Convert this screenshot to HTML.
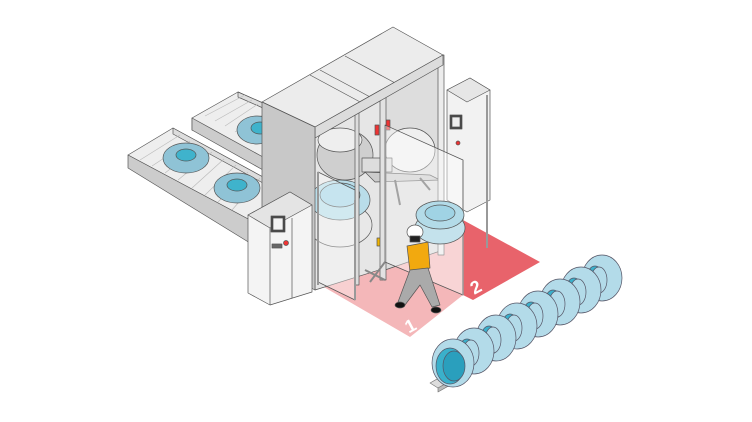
<!DOCTYPE html>
<html><head><meta charset="utf-8"><style>html,body{margin:0;padding:0;background:#fff}svg{display:block}</style></head>
<body>
<svg width="752" height="422" viewBox="0 0 752 422" xmlns="http://www.w3.org/2000/svg" stroke="#555" stroke-width="0.7" stroke-linejoin="round">
<!-- floor zones -->
<polygon points="317,283 385,248 463,225 463,295 410,337" fill="#f4b7b9" stroke="none"/>
<polygon points="463,220 540,262 473,300 463,295" fill="#e8636b" stroke="none"/>
<text x="405" y="332" font-family="Liberation Sans,sans-serif" font-size="18" font-weight="bold" fill="#fff" stroke="none" transform="rotate(-28 410 325)">1</text>
<text x="470" y="292" font-family="Liberation Sans,sans-serif" font-size="18" font-weight="bold" fill="#fff" stroke="none" transform="rotate(-28 478 285)">2</text>

<!-- upper conveyor -->
<polygon points="192,118 238,92 263,103 263,160 192,130" fill="#eee"/>
<polygon points="192,118 263,157 263,170 192,130" fill="#ccc"/>
<polygon points="238,92 263,103 263,108 238,97" fill="#ddd"/>
<g stroke="#bbb"><line x1="205" y1="116" x2="245" y2="95"/><line x1="215" y1="121" x2="252" y2="100"/><line x1="225" y1="126" x2="258" y2="104"/><line x1="235" y1="132" x2="263" y2="115"/><line x1="245" y1="138" x2="263" y2="126"/></g>
<ellipse cx="257" cy="130" rx="20" ry="14" fill="#8fc3d6"/><ellipse cx="260" cy="128" rx="9" ry="6" fill="#3fb3cc"/>

<!-- lower conveyor -->
<polygon points="128,155 173,128 263,177 263,228 250,220" fill="#eee"/>
<polygon points="128,155 250,220 250,243 128,168" fill="#ccc"/>
<polygon points="173,128 263,177 263,183 173,134" fill="#ddd"/>
<g stroke="#bbb"><line x1="140" y1="160" x2="180" y2="135"/><line x1="152" y1="166" x2="190" y2="141"/><line x1="165" y1="173" x2="200" y2="146"/><line x1="178" y1="180" x2="212" y2="152"/><line x1="192" y1="188" x2="224" y2="159"/><line x1="205" y1="195" x2="236" y2="165"/><line x1="218" y1="202" x2="248" y2="172"/><line x1="232" y1="210" x2="260" y2="178"/></g>
<ellipse cx="186" cy="158" rx="23" ry="15" fill="#8fc3d6"/><ellipse cx="186" cy="155" rx="10" ry="6" fill="#3fb3cc"/>
<ellipse cx="237" cy="188" rx="23" ry="15" fill="#8fc3d6"/><ellipse cx="237" cy="185" rx="10" ry="6" fill="#3fb3cc"/>

<!-- tower interior back -->
<polygon points="315,127 443,55 443,250 315,290" fill="#e6e6e6"/>
<polygon points="385,92 443,60 443,250 385,270" fill="#ddd"/>
<ellipse cx="345" cy="155" rx="28" ry="25" fill="#cfcfcf"/>
<ellipse cx="340" cy="140" rx="22" ry="12" fill="#eee"/>
<ellipse cx="340" cy="225" rx="32" ry="22" fill="#e8e8e8"/>
<ellipse cx="340" cy="200" rx="30" ry="20" fill="#b9dde9"/>
<ellipse cx="340" cy="195" rx="20" ry="12" fill="#a8d6e6"/>
<ellipse cx="410" cy="150" rx="25" ry="22" fill="#efefef"/>
<rect x="362" y="158" width="30" height="14" fill="#ddd"/>
<polygon points="365,172 430,175 440,180 375,182" fill="#ccc"/>
<line x1="395" y1="180" x2="400" y2="205" stroke="#666" stroke-width="2"/>
<line x1="420" y1="178" x2="430" y2="190" stroke="#666" stroke-width="2"/>
<rect x="375" y="125" width="4" height="10" fill="#e33"/>
<rect x="386" y="120" width="4" height="10" fill="#e33"/>
<rect x="377" y="238" width="8" height="8" fill="#f0b400"/>
<rect x="380" y="95" width="6" height="185" fill="#e2e2e2"/>
<rect x="355" y="105" width="4" height="180" fill="#ddd"/>
<rect x="438" y="55" width="6" height="200" fill="#ececec"/>
<!-- tower top -->
<polygon points="262,102 393,27 443,55 315,127" fill="#ececec"/>
<line x1="310" y1="75" x2="362" y2="103" /><line x1="320" y1="70" x2="372" y2="98"/><line x1="345" y1="56" x2="397" y2="84"/>
<polygon points="315,127 443,55 443,65 315,138" fill="#dcdcdc"/>
<polygon points="262,102 315,127 315,290 262,262" fill="#c8c8c8"/>
<!-- right control cabinet -->
<polygon points="447,90 470,78 490,90 490,200 467,212 447,200" fill="#f2f2f2"/>
<polygon points="447,90 470,78 490,90 467,102" fill="#e6e6e6"/>
<rect x="450" y="115" width="12" height="14" fill="#444"/><rect x="452" y="117" width="8" height="10" fill="#eee"/>
<circle cx="458" cy="143" r="2" fill="#e33"/>
<!-- glass panels -->
<polygon points="318,172 355,190 355,300 318,282" fill="#fff" fill-opacity="0.35"/>
<polygon points="385,125 463,160 463,295 385,262" fill="#fff" fill-opacity="0.4"/>
<line x1="318" y1="172" x2="318" y2="285" stroke="#999" stroke-width="2"/>
<line x1="355" y1="200" x2="355" y2="300" stroke="#999" stroke-width="2"/>
<line x1="463" y1="160" x2="463" y2="295" stroke="#999" stroke-width="1.5"/>
<line x1="487" y1="95" x2="487" y2="248" stroke="#999" stroke-width="2"/>
<!-- tire on floor -->
<ellipse cx="440" cy="228" rx="25" ry="16" fill="#c4e2ec"/>
<ellipse cx="440" cy="215" rx="24" ry="14" fill="#b3dbe8"/>
<ellipse cx="440" cy="213" rx="15" ry="8" fill="#a0d3e4"/>
<g stroke="#888" stroke-width="2"><line x1="365" y1="270" x2="385" y2="280"/><line x1="370" y1="282" x2="385" y2="262"/></g>
<!-- left control cabinet -->
<polygon points="248,215 290,192 312,205 312,292 270,305 248,293" fill="#f4f4f4"/>
<polygon points="248,215 290,192 312,205 270,228" fill="#e4e4e4"/>
<line x1="270" y1="228" x2="270" y2="305"/>
<line x1="292" y1="218" x2="292" y2="298"/>
<rect x="271" y="216" width="14" height="16" fill="#444"/><rect x="273" y="218" width="10" height="12" fill="#f3f3f3"/>
<circle cx="286" cy="243" r="2.5" fill="#e33"/>
<rect x="272" y="244" width="10" height="4" fill="#666"/>
<!-- worker -->
<ellipse cx="415" cy="232" rx="8" ry="7" fill="#fff"/>
<rect x="410" y="236" width="10" height="6" fill="#222"/>
<polygon points="407,246 428,242 430,268 410,272" fill="#f2a90f"/>
<polygon points="410,270 428,268 440,305 432,307 420,285 405,305 398,302" fill="#aaa"/>
<ellipse cx="400" cy="305" rx="5" ry="3" fill="#111"/><ellipse cx="436" cy="310" rx="5" ry="3" fill="#111"/>
<!-- tire row stands -->
<g fill="#ddd" stroke="#777">
<polygon points="430,383 600,287 608,291 438,388"/>
<polygon points="438,388 608,291 608,295 438,392" fill="#bbb"/>
</g>
<g fill="#b3dbe9" stroke="#556">
<ellipse cx="602" cy="278" rx="20" ry="23"/><ellipse cx="595" cy="281" rx="9" ry="15" fill="#3ab0cb"/><ellipse cx="599" cy="280" rx="8" ry="13" fill="#b3dbe9"/>
<ellipse cx="581" cy="290" rx="20" ry="23"/><ellipse cx="574" cy="293" rx="9" ry="15" fill="#3ab0cb"/><ellipse cx="578" cy="292" rx="8" ry="13" fill="#b3dbe9"/>
<ellipse cx="560" cy="302" rx="20" ry="23"/><ellipse cx="553" cy="305" rx="9" ry="15" fill="#3ab0cb"/><ellipse cx="557" cy="304" rx="8" ry="13" fill="#b3dbe9"/>
<ellipse cx="538" cy="314" rx="20" ry="23"/><ellipse cx="531" cy="317" rx="9" ry="15" fill="#3ab0cb"/><ellipse cx="535" cy="316" rx="8" ry="13" fill="#b3dbe9"/>
<ellipse cx="517" cy="326" rx="20" ry="23"/><ellipse cx="510" cy="329" rx="9" ry="15" fill="#3ab0cb"/><ellipse cx="514" cy="328" rx="8" ry="13" fill="#b3dbe9"/>
<ellipse cx="496" cy="338" rx="20" ry="23"/><ellipse cx="489" cy="341" rx="9" ry="15" fill="#3ab0cb"/><ellipse cx="493" cy="340" rx="8" ry="13" fill="#b3dbe9"/>
<ellipse cx="474" cy="351" rx="20" ry="23"/><ellipse cx="467" cy="354" rx="9" ry="15" fill="#3ab0cb"/><ellipse cx="471" cy="353" rx="8" ry="13" fill="#b3dbe9"/>
<ellipse cx="453" cy="363" rx="21" ry="24"/><ellipse cx="450" cy="366" rx="14" ry="18" fill="#3ab0cb"/><ellipse cx="454" cy="366" rx="11" ry="15" fill="#2a9fbd"/>
</g>
</svg>
</body></html>
